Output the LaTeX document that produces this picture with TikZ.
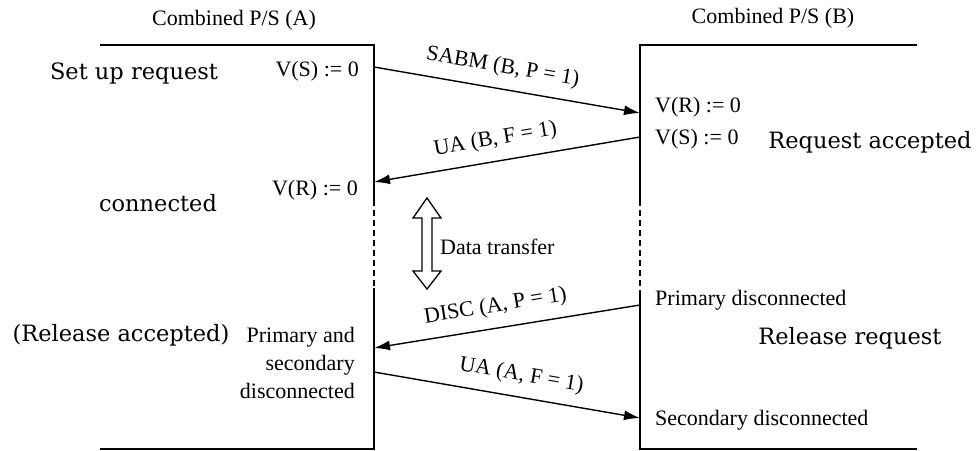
\documentclass[tikz,border=0pt]{standalone}
\usepackage{fontspec}
\setmainfont{Liberation Serif}
\newfontfamily\bigserif{DejaVu Serif}
\usetikzlibrary{arrows.meta}
\begin{document}
\begin{tikzpicture}[x=1pt,y=-1pt,
  lab/.style={font=\rmfamily\fontsize{22}{28}\selectfont, inner sep=0pt},
  big/.style={font=\bigserif\fontsize{22.5}{28}\selectfont, inner sep=0pt},
  life/.style={line width=1.6pt},
  dashlife/.style={line width=1.6pt, dash pattern=on 6pt off 4pt},
  msg/.style={line width=1.4pt, -{Latex[length=16pt,width=10pt]}},
  msglab/.style={lab, sloped, above=11pt}]
\useasboundingbox (0,0) rectangle (976,450);

% lifeline coordinates
\coordinate (AL) at (100,45);
\coordinate (AT) at (374,45);
\coordinate (AD1) at (374,200);
\coordinate (AD2) at (374,288);
\coordinate (AB) at (374,449);
\coordinate (ABL) at (100,449);
\coordinate (BT) at (640,45);
\coordinate (BR) at (917,45);
\coordinate (BD1) at (640,200);
\coordinate (BD2) at (640,290);
\coordinate (BB) at (640,449);
\coordinate (BBR) at (917,449);

\draw[life] (AL) -- (AT) -- (AD1);
\draw[dashlife] (AD1) -- (AD2);
\draw[life] (AD2) -- (AB) -- (ABL);
\draw[life] (BR) -- (BT) -- (BD1);
\draw[dashlife] (BD1) -- (BD2);
\draw[life] (BD2) -- (BB) -- (BBR);

% message end points
\coordinate (a1) at (374,67);
\coordinate (b1) at (640,113);
\coordinate (b2) at (640,137);
\coordinate (a2) at (374,182);
\coordinate (b3) at (640,305);
\coordinate (a3) at (374,348);
\coordinate (a4) at (374,372);
\coordinate (b4) at (640,418);

\draw[msg] (a1) -- node[msglab, pos=0.47] (l1) {SABM (B, P = 1)} (b1);
\draw[msg] (b2) -- node[msglab, pos=0.53] (l2) {UA (B, F = 1)} (a2);
\draw[msg] (b3) -- node[msglab, pos=0.53] (l3) {DISC (A, P = 1)} (a3);
\draw[msg] (a4) -- node[msglab, pos=0.54] (l4) {UA (A, F = 1)} (b4);

% data transfer double arrow
\draw[line width=1.3pt, line join=miter]
  (427,198) -- (441,218) -- (432,218) -- (432,271) -- (441,271) -- (427,289)
  -- (413,271) -- (422,271) -- (422,218) -- (413,218) -- cycle;

% texts
\node[lab] (cA) at (234,20) {Combined P/S (A)};
\node[lab] (cB) at (773,18) {Combined P/S (B)};
\node[big] (setup) at (134,73) {Set up request};
\node[lab,anchor=east] (vsA) at (359,71) {V(S) := 0};
\node[lab,anchor=west] (vrB) at (655,107) {V(R) := 0};
\node[lab,anchor=west] (vsB) at (655,139) {V(S) := 0};
\node[big] (reqacc) at (870,142) {Request accepted};
\node[lab,anchor=east] (vrA) at (358,190) {V(R) := 0};
\node[big] (conn) at (158,203) {connected};
\node[lab,anchor=west] (dt) at (440,247) {Data transfer};
\node[big] (relacc) at (121,335) {(Release accepted)};
\node[lab,anchor=east,align=right] (psd) at (355,363) {Primary and\\secondary\\disconnected};
\node[lab,anchor=west] (pd) at (655,300) {Primary disconnected};
\node[big] (relreq) at (850,338) {Release request};
\node[lab,anchor=west] (sd) at (655,420) {Secondary disconnected};
\end{tikzpicture}
\end{document}
